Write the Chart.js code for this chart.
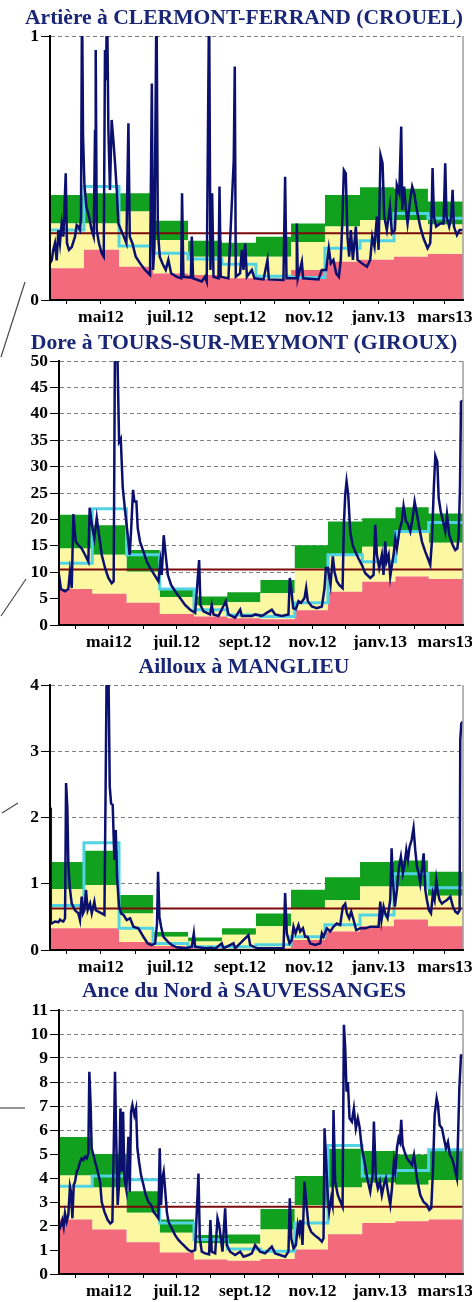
<!DOCTYPE html>
<html>
<head>
<meta charset="utf-8">
<script src="https://cdn.jsdelivr.net/npm/chart.js@4/dist/chart.umd.min.js"></script>
<style>
  html, body { margin: 0; padding: 0; background: #ffffff; }
  #page { position: relative; width: 472px; height: 1302px; overflow: hidden; background: #ffffff; }
  #page canvas { position: absolute; left: 0; }
  #leaders { position: absolute; left: 0; top: 0; }
</style>
</head>
<body>
<div id="page">
  <canvas id="crouel" width="472" height="325" style="top:0px"></canvas>
  <canvas id="giroux" width="472" height="325" style="top:325px"></canvas>
  <canvas id="manglieu" width="472" height="325" style="top:650px"></canvas>
  <canvas id="sauvessanges" width="472" height="327" style="top:975px"></canvas>
  <svg id="leaders" width="472" height="1302">
    <g stroke="#4a4a4a" stroke-width="1.2" fill="none">
      <line x1="25" y1="282" x2="1" y2="357"/>
      <line x1="26" y1="579" x2="1" y2="616"/>
      <line x1="18" y1="803" x2="2" y2="813"/>
      <line x1="0" y1="1108" x2="25" y2="1108"/>
    </g>
  </svg>
</div>
<script>
// ---- Period shown: one hydrological year of daily flows (m3/s) ----
const periodStart = '2012-03-17';
const periodEnd = '2013-03-17';

// Month ticks along the time axis; a label every other month
const monthTickDates = ['2012-04-01', '2012-05-01', '2012-06-01', '2012-07-01', '2012-08-01', '2012-09-01',
                        '2012-10-01', '2012-11-01', '2012-12-01', '2013-01-01', '2013-02-01', '2013-03-01'];
const monthTickLabels = ['', 'mai12', '', 'juil.12', '', 'sept.12', '', 'nov.12', '', 'janv.13', '', 'mars13'];

// Dates where the monthly reference bands change
const bandStepDates = ['2012-03-17', '2012-04-16', '2012-05-17', '2012-06-16', '2012-07-17', '2012-08-16', '2012-09-15',
                       '2012-10-16', '2012-11-15', '2012-12-16', '2013-01-15', '2013-02-14', '2013-03-17'];

// ---- Artière à CLERMONT-FERRAND (CROUEL) ----
const crouelTitle = 'Artière à CLERMONT-FERRAND (CROUEL)';
const crouelLow = [0.12, 0.19, 0.126, 0.10, 0.095, 0.082, 0.08, 0.114, 0.145, 0.152, 0.164, 0.174];
const crouelMid = [0.29, 0.29, 0.335, 0.227, 0.164, 0.164, 0.164, 0.22, 0.278, 0.303, 0.303, 0.286];
const crouelHigh = [0.398, 0.404, 0.404, 0.30, 0.224, 0.217, 0.24, 0.29, 0.398, 0.427, 0.421, 0.373];
const crouelMonthly = [0.265, 0.43, 0.205, 0.177, 0.155, 0.135, 0.09, 0.085, 0.196, 0.224, 0.328, 0.31];
const crouelModule = 0.253;
const crouelFlow = [[0,0.14],[1.5,0.15],[2.9,0.19],[4.4,0.215],[5.9,0.15],[7.4,0.265],[8.8,0.215],[10.3,0.29],[11.8,0.24],[13.9,0.48],[15,0.215],[16.8,0.19],[19.2,0.2],[22.1,0.24],[23.6,0.284],[25,0.278],[26.5,0.265],[27.4,0.316],[28.3,1.15],[29.2,0.62],[30.4,0.44],[32.1,0.354],[34.5,0.316],[36.8,0.265],[38.6,0.24],[39.8,0.64],[40.4,0.947],[41.3,0.265],[43.3,0.215],[45.7,0.177],[47.5,0.164],[48.6,0.947],[49.5,0.833],[50.4,1.15],[51.6,0.644],[53,0.417],[54.5,0.682],[56,0.606],[57.5,0.518],[59,0.417],[60.4,0.29],[62.8,0.265],[65.2,0.24],[67.5,0.215],[69.3,0.669],[70.5,0.24],[72.8,0.215],[75.8,0.164],[79.6,0.139],[84,0.114],[88.4,0.095],[90,0.82],[91.1,0.114],[92.3,0.202],[94.1,1.15],[95.3,0.265],[97,0.164],[99.3,0.139],[102.3,0.114],[104.6,0.152],[107,0.101],[112,0.088],[115.9,0.082],[116.7,0.404],[117.9,0.088],[124.5,0.085],[125.3,0.24],[126.5,0.082],[134.1,0.07],[137,0.088],[138.5,0.07],[140.6,1.15],[141.8,0.114],[143.3,0.404],[144.5,0.088],[148.9,0.082],[149.8,0.43],[150.9,0.088],[157.7,0.082],[162.4,0.53],[163.3,0.884],[164.2,0.088],[168,0.101],[169.5,0.19],[171,0.114],[172.5,0.215],[174,0.088],[178.4,0.114],[180.7,0.082],[188.7,0.078],[192.2,0.152],[193.4,0.078],[206.3,0.076],[207.8,0.467],[209,0.082],[217.5,0.082],[218.1,0.29],[219,0.082],[222.6,0.145],[223.7,0.082],[237.3,0.078],[240.2,0.114],[244.1,0.114],[246.4,0.196],[248.2,0.139],[250.5,0.152],[252.9,0.101],[255.3,0.088],[257,0.152],[258.5,0.316],[259.7,0.492],[261.4,0.48],[262.9,0.24],[264.4,0.164],[265.9,0.265],[267.7,0.152],[270.3,0.278],[271.8,0.152],[275.6,0.139],[280.1,0.126],[283,0.152],[284.8,0.24],[286.8,0.202],[288.9,0.316],[290.4,0.19],[292.1,0.549],[293.9,0.518],[295.4,0.316],[297.7,0.265],[300.4,0.354],[302.2,0.253],[304.8,0.265],[306.5,0.436],[308.7,0.404],[310.4,0.657],[311.3,0.341],[313,0.43],[314.6,0.341],[316,0.29],[318.3,0.379],[320.1,0.43],[321.9,0.404],[324.2,0.341],[327.2,0.278],[330.1,0.234],[333.7,0.196],[336,0.215],[337.2,0.316],[338.1,0.5],[339.3,0.316],[341.3,0.278],[344.9,0.29],[347.8,0.29],[349.3,0.518],[350.4,0.316],[352.8,0.278],[354.6,0.316],[355.8,0.417],[357,0.278],[359.6,0.246],[362,0.265],[365,0.265]];

// ---- Dore à TOURS-SUR-MEYMONT (GIROUX) ----
const girouxTitle = 'Dore à TOURS-SUR-MEYMONT (GIROUX)';
const girouxLow = [6.8, 5.9, 4.2, 2.1, 1.6, 1.3, 1.1, 2.8, 6.3, 8.2, 9.2, 8.7];
const girouxMid = [14.5, 13.3, 10.1, 5.3, 3.7, 4.3, 6.0, 10.7, 13.3, 14.8, 17.7, 15.6];
const girouxHigh = [20.9, 18.9, 14.2, 6.8, 5.4, 6.2, 8.5, 15.1, 19.6, 20.2, 22.3, 21.1];
const girouxMonthly = [11.7, 22.0, 13.3, 6.8, 2.9, 1.9, 1.6, 4.2, 13.3, 12.0, 17.7, 19.4];
const girouxModule = 10.5;
const girouxFlow = [[0,9.5],[1.8,6.8],[5.4,6.4],[8.4,6.8],[9.9,10.1],[11.5,7.0],[13,21],[15.1,15.8],[17.5,15.1],[20.5,14.5],[23.5,13.3],[26.5,12],[27.7,22.2],[30.1,18.4],[31.9,16.4],[34.1,20.3],[36.2,17],[38.6,13.3],[41.6,10.8],[44.6,8.9],[47.6,7.9],[49.4,8.3],[50.6,55],[52.4,55],[54.3,34.7],[55.8,35.3],[57.6,26],[59.7,21.6],[62.1,17],[63.9,13.3],[65.1,17.7],[66.9,25.6],[68.1,23.4],[69.9,23.4],[71.1,18.4],[73.2,15.8],[76.3,13.9],[79.3,12],[82.3,10.8],[86.2,9.5],[89.8,8.3],[91.6,12],[92.8,9.5],[94.6,17],[96.4,13.3],[98.3,9.5],[101.3,7.6],[104.9,6.4],[109.4,5.1],[113.9,3.8],[118.5,2.9],[123,2.3],[126.6,12.3],[127.8,3.8],[130.5,2.6],[136.5,2.0],[138,3.8],[139.6,2.0],[144.1,1.7],[150.7,4.5],[153.1,2.0],[159.1,1.4],[163.7,2.9],[165.2,1.7],[174.2,1.7],[177.2,2.0],[183.2,1.7],[187.7,2.3],[192.3,2.9],[195.3,2.0],[201.3,1.7],[207.3,2.0],[208.5,8.9],[209.8,7.0],[211.6,3.2],[214,3.0],[216.4,4.5],[218.8,4.2],[221.8,5.1],[223.3,7.0],[224.8,4.5],[228.4,3.5],[233,3.2],[237.5,3.5],[239.9,7.0],[241.1,10.8],[242.9,10.8],[245.3,7.6],[247.4,13],[248.9,10.1],[251,8.3],[253.2,7.6],[256.2,7.0],[257.4,19.1],[258.6,24.7],[259.8,27.2],[261.3,24.7],[263.1,17.7],[265.2,15.2],[267.6,13.9],[270.6,12.6],[273.6,11.4],[276.7,9.8],[281.2,8.9],[284.2,9.5],[285.7,19],[287.2,13.3],[289.3,10.8],[291.7,13.3],[293.2,9.5],[294.7,15.8],[295.9,12],[297.8,13.3],[299.3,9.2],[300.8,11.4],[302.3,13.3],[303.8,16.4],[305.3,14.5],[307.4,17.7],[309.8,19.7],[311.3,22.5],[313.4,19.7],[315.2,19.1],[317.4,17.7],[319.5,20.3],[321.3,23.4],[323.4,21],[325.5,18.4],[327.9,15.8],[330.9,13.9],[333.3,12.6],[335.4,11.4],[336.9,15.8],[338.7,26.3],[340,32],[341.8,30.9],[343,24.1],[344.8,21.6],[346.9,19.7],[349,17.7],[350.5,21],[352.6,17],[355.6,15.2],[358,14.2],[359.9,14.5],[361.1,17],[362.3,26.3],[363.2,42.3],[365,42.5]];

// ---- Ailloux à MANGLIEU ----
const manglieuTitle = 'Ailloux à MANGLIEU';
const manglieuLow = [0.33, 0.33, 0.12, 0.06, 0.03, 0.02, 0.03, 0.15, 0.28, 0.36, 0.46, 0.36];
const manglieuMid = [0.92, 0.98, 0.55, 0.2, 0.13, 0.23, 0.36, 0.63, 0.75, 0.96, 0.96, 0.82];
const manglieuHigh = [1.33, 1.5, 0.83, 0.27, 0.19, 0.33, 0.55, 0.91, 1.1, 1.33, 1.35, 1.18];
const manglieuMonthly = [0.67, 1.62, 0.33, 0.1, 0.05, 0.05, 0.08, 0.2, 0.38, 0.53, 1.15, 0.94];
const manglieuModule = 0.625;
const manglieuFlow = [[0,2.15],[0.7,0.4],[1.5,0.4],[4.4,0.43],[7.4,0.42],[8.9,0.46],[10.3,0.44],[11.8,0.43],[13.3,0.48],[14.2,2.52],[15.3,2.16],[16.2,1.31],[17.4,0.956],[19.2,0.7],[22.1,0.6],[25.1,0.553],[26.5,0.453],[28,0.805],[29.2,0.553],[30.4,0.6],[31.8,0.906],[33.3,0.6],[35.4,0.7],[36.9,0.553],[39.2,0.73],[40.4,0.6],[42.7,0.58],[45.7,0.553],[48.1,0.53],[49.2,2.52],[50.1,4.3],[51.6,4.3],[52.8,2.47],[54,2.21],[55.4,2.19],[56.9,1.36],[58.1,1.81],[59.3,1.1],[61,0.654],[62.8,0.553],[64.9,0.53],[67.8,0.453],[70.8,0.48],[73.7,0.352],[78.1,0.327],[82.5,0.2],[86.4,0.1],[89.9,0.075],[92.9,0.1],[94.6,0.4],[95.5,1.18],[96.7,0.5],[98.2,0.352],[100.2,0.2],[104.1,0.126],[107.6,0.075],[112,0.04],[119.4,0.025],[125.3,0.05],[127.1,0.25],[128.2,0.05],[137.1,0.025],[143,0.035],[146,0.02],[151.8,0.1],[153.3,0.025],[162.2,0.1],[163.6,0.025],[175.4,0.226],[176.9,0.075],[182.8,0.025],[194.6,0.025],[206.4,0.025],[207.8,0.86],[209.3,0.25],[211.7,0.1],[213.7,0.15],[215.2,0.352],[217,0.25],[219.6,0.377],[221.1,0.28],[223.5,0.33],[225.5,0.2],[227.6,0.2],[230,0.1],[234.4,0.075],[238.8,0.1],[240.3,0.25],[241.7,0.2],[244.7,0.327],[247.6,0.28],[250.6,0.352],[253.5,0.4],[256.5,0.377],[258.8,0.654],[260.9,0.7],[262.4,0.553],[264.4,0.48],[266.2,0.58],[268.3,0.453],[270.6,0.3],[274.2,0.327],[278.6,0.327],[283,0.352],[287.4,0.352],[290.4,0.352],[291.9,0.73],[293,0.453],[294.8,0.654],[296.3,0.553],[298.3,0.48],[300.7,0.755],[301.9,1.535],[303,1.06],[304.8,0.654],[306.6,0.906],[308.4,1.258],[310.1,1.41],[311.9,1.157],[313.1,1.258],[314.9,1.51],[316.3,1.36],[317.8,1.56],[319.6,1.66],[321.3,1.84],[322.8,1.51],[324.3,1.258],[325.8,1.157],[327.2,1.006],[329,1.258],[330.2,1.46],[331.7,0.906],[333.1,0.755],[334.9,0.6],[336.7,0.553],[338.4,0.855],[339.9,0.755],[341.4,1.06],[342.9,0.855],[344.3,0.755],[346.4,0.7],[348.5,0.73],[350.8,0.755],[353.8,0.805],[356.1,0.654],[358.2,0.58],[360.3,0.553],[362,0.6],[362.6,3.17],[363.5,3.42],[365,3.45]];

// ---- Ance du Nord à SAUVESSANGES ----
const sauvessangesTitle = 'Ance du Nord à SAUVESSANGES';
const sauvessangesLow = [2.27, 1.85, 1.32, 0.9, 0.6, 0.55, 0.62, 1.02, 1.66, 2.13, 2.2, 2.27];
const sauvessangesMid = [4.1, 3.6, 2.55, 1.72, 1.28, 1.26, 1.85, 2.86, 3.6, 3.8, 3.72, 3.92];
const sauvessangesHigh = [5.71, 5.0, 3.45, 2.27, 1.62, 1.65, 2.71, 4.08, 5.22, 5.12, 4.98, 5.12];
const sauvessangesMonthly = [3.66, 4.08, 3.93, 2.13, 1.44, 1.04, 0.95, 2.13, 5.35, 4.08, 4.31, 5.18];
const sauvessangesModule = 2.8;
const sauvessangesFlow = [[0,1.83],[1.8,2.04],[3,2.25],[4.2,1.97],[5.4,2.53],[6.9,2.18],[8.4,2.46],[9.9,3.64],[10.8,3.43],[12.1,2.32],[13.3,3.71],[14.5,3.85],[16,4.26],[17.5,4.4],[19,4.68],[20.5,4.82],[22,4.75],[23.5,4.89],[25,4.82],[26.5,5.03],[27.4,8.43],[28.6,7.04],[29.5,5.24],[31.1,4.96],[32.6,4.68],[35,4.26],[37.1,3.85],[38.6,3.0],[41,2.6],[44,2.25],[46.4,2.11],[48.2,2.18],[49.4,5.1],[50.6,8.43],[51.8,5.37],[53,2.88],[54.2,3.71],[55.5,6.9],[56.7,4.26],[57.9,6.76],[59.1,3.98],[60.9,3.5],[62.7,5.72],[63.9,3.43],[65.1,6.76],[66.3,7.04],[68.1,6.62],[69.6,6.9],[70.8,5.24],[72.3,4.68],[74.1,4.12],[76.3,3.71],[78.4,3.29],[80.8,3.0],[83.2,2.88],[85.3,2.6],[87.7,2.46],[89.8,2.32],[91,5.24],[92.2,2.88],[93.4,3.98],[94.6,4.26],[95.8,3.57],[97.4,2.6],[98.9,2.18],[101.9,1.9],[104.9,1.62],[107.9,1.42],[110.9,1.28],[113.9,1.14],[116.9,1.0],[120,0.93],[123,1.0],[126,4.19],[127.2,1.49],[129,0.93],[132,0.86],[135.6,0.82],[136.8,2.25],[138,0.93],[141.1,0.86],[143.2,2.32],[144.7,2.04],[146.2,1.49],[147.7,0.93],[150.1,2.74],[151.6,1.21],[154.6,0.93],[159.1,0.79],[163.7,0.93],[166.7,0.72],[171.2,0.79],[174.2,0.86],[177.2,1.21],[181.7,0.93],[186.2,0.86],[192.3,1.14],[195.3,0.86],[199.8,0.79],[204.3,0.72],[207.3,0.93],[208.5,3.15],[209.8,1.49],[211.9,1.07],[214,1.21],[215.8,2.04],[217,1.76],[218.2,2.25],[220,1.21],[221.8,3.85],[223.6,2.88],[225.4,2.04],[227.8,1.76],[230.8,1.62],[234.5,1.49],[237.5,1.35],[239,1.49],[239.9,6.07],[241.1,4.96],[242.9,3.15],[244.1,2.6],[245.9,3.15],[247.1,2.88],[248,6.83],[249.5,3.85],[251.9,3.29],[254.4,3.0],[256.2,2.8],[257.4,10.38],[258.6,9.4],[259.8,7.6],[261,8.0],[262.5,6.49],[264.6,6.35],[266.4,6.9],[268.2,6.07],[270,6.49],[271.5,6.14],[273.6,5.24],[276,4.68],[278.5,3.98],[281.2,3.43],[283.3,4.12],[284.5,6.35],[286.3,3.98],[288.1,3.57],[289.9,3.85],[291.7,3.29],[293.5,3.71],[295.3,3.98],[297.2,3.43],[299.3,2.88],[300.8,3.57],[302.6,4.68],[303.8,4.26],[305.3,5.24],[306.8,5.65],[308,5.5],[309.2,6.42],[310.4,5.37],[312.2,5.1],[314.3,4.82],[316.7,4.68],[318.9,4.54],[320.7,4.96],[323.4,3.98],[326.4,3.29],[329.4,3.0],[332.4,2.88],[334.5,2.67],[336.3,2.74],[337.8,4.26],[339.4,6.63],[341.2,7.32],[342.4,7.04],[343.9,6.21],[346,6.07],[347.8,5.65],[349.6,5.24],[351.4,5.5],[353.2,4.96],[355,4.82],[356.8,4.54],[358,4.26],[359.5,3.98],[360.5,5.65],[361.7,7.74],[363.2,9.1],[365,9.1]];

// ---- Rendering ----
const SERIF = '"Liberation Serif", "DejaVu Serif", serif';
const TITLE_COLOR = '#1a2776';
const FLOW_COLOR = '#0b0f6e';
const MONTHLY_COLOR = '#52d3e3';
const MODULE_COLOR = '#7a0a0a';
const LOW_COLOR = '#f26a7c';
const MID_COLOR = '#fcf8a2';
const HIGH_COLOR = '#12a11e';

function dayOf(iso) {
  const [y, m, d] = iso.split('-').map(Number);
  const [y0, m0, d0] = periodStart.split('-').map(Number);
  return Math.round((Date.UTC(y, m - 1, d) - Date.UTC(y0, m0 - 1, d0)) / 86400000);
}
const periodDays = dayOf(periodEnd);
const monthTickDays = monthTickDates.map(dayOf);
const bandStepDays = bandStepDates.map(dayOf);

function stepSeries(vals) {
  return bandStepDays.map((d, i) => ({ x: d, y: vals[Math.min(i, vals.length - 1)] }));
}

// right-hand frame of the plot area
const rightFrame = {
  id: 'rightFrame',
  afterDatasetsDraw(chart) {
    const { ctx, chartArea: a } = chart;
    ctx.save();
    ctx.strokeStyle = '#9c9c9c';
    ctx.lineWidth = 1.5;
    ctx.beginPath();
    ctx.moveTo(a.right, a.top);
    ctx.lineTo(a.right, a.bottom);
    ctx.stroke();
    ctx.restore();
  }
};

function drawStation(id, s) {
  const canvas = document.getElementById(id);
  const H = canvas.height;
  const leftPad = 25;
  const titleSize = 21.7;
  const tickFont = { family: SERIF, size: 17.5, weight: 'bold' };
  return new Chart(canvas.getContext('2d'), {
    type: 'line',
    data: {
      datasets: [
        { data: s.flow.map(([x, y]) => ({ x, y })), borderColor: FLOW_COLOR, borderWidth: 2.5,
          pointRadius: 0, tension: 0, fill: false, clip: 0 },
        { data: [{ x: 0, y: s.module }, { x: periodDays, y: s.module }], borderColor: MODULE_COLOR,
          borderWidth: 2, pointRadius: 0, fill: false },
        { data: stepSeries(s.monthly), borderColor: MONTHLY_COLOR, borderWidth: 3, stepped: true,
          pointRadius: 0, fill: false },
        { data: stepSeries(s.low), borderColor: 'rgba(0,0,0,0)', borderWidth: 0, backgroundColor: LOW_COLOR,
          stepped: true, pointRadius: 0, fill: 'origin' },
        { data: stepSeries(s.mid), borderColor: 'rgba(0,0,0,0)', borderWidth: 0, backgroundColor: MID_COLOR,
          stepped: true, pointRadius: 0, fill: '-1' },
        { data: stepSeries(s.high), borderColor: 'rgba(0,0,0,0)', borderWidth: 0, backgroundColor: HIGH_COLOR,
          stepped: true, pointRadius: 0, fill: '-1' }
      ]
    },
    options: {
      responsive: false,
      animation: false,
      devicePixelRatio: 1,
      layout: { padding: { left: leftPad, right: 9, top: 0, bottom: 0 } },
      plugins: {
        legend: { display: false },
        tooltip: { enabled: false },
        title: {
          display: true, text: s.title, color: TITLE_COLOR,
          font: { family: SERIF, size: titleSize, weight: 'bold', lineHeight: 1.2 },
          padding: { top: s.titleTop, bottom: s.plotTop - s.titleTop - titleSize * 1.2 }
        }
      },
      scales: {
        x: {
          type: 'linear', min: 0, max: periodDays,
          afterBuildTicks: (scale) => { scale.ticks = monthTickDays.map(v => ({ value: v })); },
          afterFit: (scale) => { scale.height = H - s.plotBottom; scale.paddingLeft = 0; scale.paddingRight = 0; },
          ticks: { autoSkip: false, maxRotation: 0, color: '#000', font: tickFont, padding: 3,
                   callback: (v, i) => monthTickLabels[i] },
          grid: { drawOnChartArea: false, tickLength: 4, tickColor: '#000', tickWidth: 1 },
          border: { display: true, color: '#000', width: 2, z: 1 }
        },
        y: {
          min: 0, max: s.yMax,
          afterFit: (scale) => { scale.width = s.plotLeft - leftPad; scale.paddingTop = 0; scale.paddingBottom = 0; },
          ticks: { stepSize: s.yStep, color: '#000', font: tickFont, padding: 2 },
          grid: {
            color: (c) => (c.tick && c.tick.value > 0 ? '#808080' : 'rgba(0,0,0,0)'),
            lineWidth: 1, tickLength: 9, tickColor: '#000', tickWidth: 1
          },
          border: { display: true, color: '#000', width: 2, dash: [4, 3], z: 1 }
        }
      }
    },
    plugins: [rightFrame]
  });
}

drawStation('crouel', {
  title: crouelTitle, low: crouelLow, mid: crouelMid, high: crouelHigh, monthly: crouelMonthly,
  module: crouelModule, flow: crouelFlow, yMax: 1, yStep: 1,
  plotLeft: 50, plotTop: 36, plotBottom: 300, titleTop: 5
});
drawStation('giroux', {
  title: girouxTitle, low: girouxLow, mid: girouxMid, high: girouxHigh, monthly: girouxMonthly,
  module: girouxModule, flow: girouxFlow, yMax: 50, yStep: 5,
  plotLeft: 59, plotTop: 36, plotBottom: 300, titleTop: 5
});
drawStation('manglieu', {
  title: manglieuTitle, low: manglieuLow, mid: manglieuMid, high: manglieuHigh, monthly: manglieuMonthly,
  module: manglieuModule, flow: manglieuFlow, yMax: 4, yStep: 1,
  plotLeft: 50, plotTop: 35, plotBottom: 300, titleTop: 4
});
drawStation('sauvessanges', {
  title: sauvessangesTitle, low: sauvessangesLow, mid: sauvessangesMid, high: sauvessangesHigh,
  monthly: sauvessangesMonthly, module: sauvessangesModule, flow: sauvessangesFlow, yMax: 11, yStep: 1,
  plotLeft: 59, plotTop: 35, plotBottom: 299, titleTop: 3
});
</script>
</body>
</html>
